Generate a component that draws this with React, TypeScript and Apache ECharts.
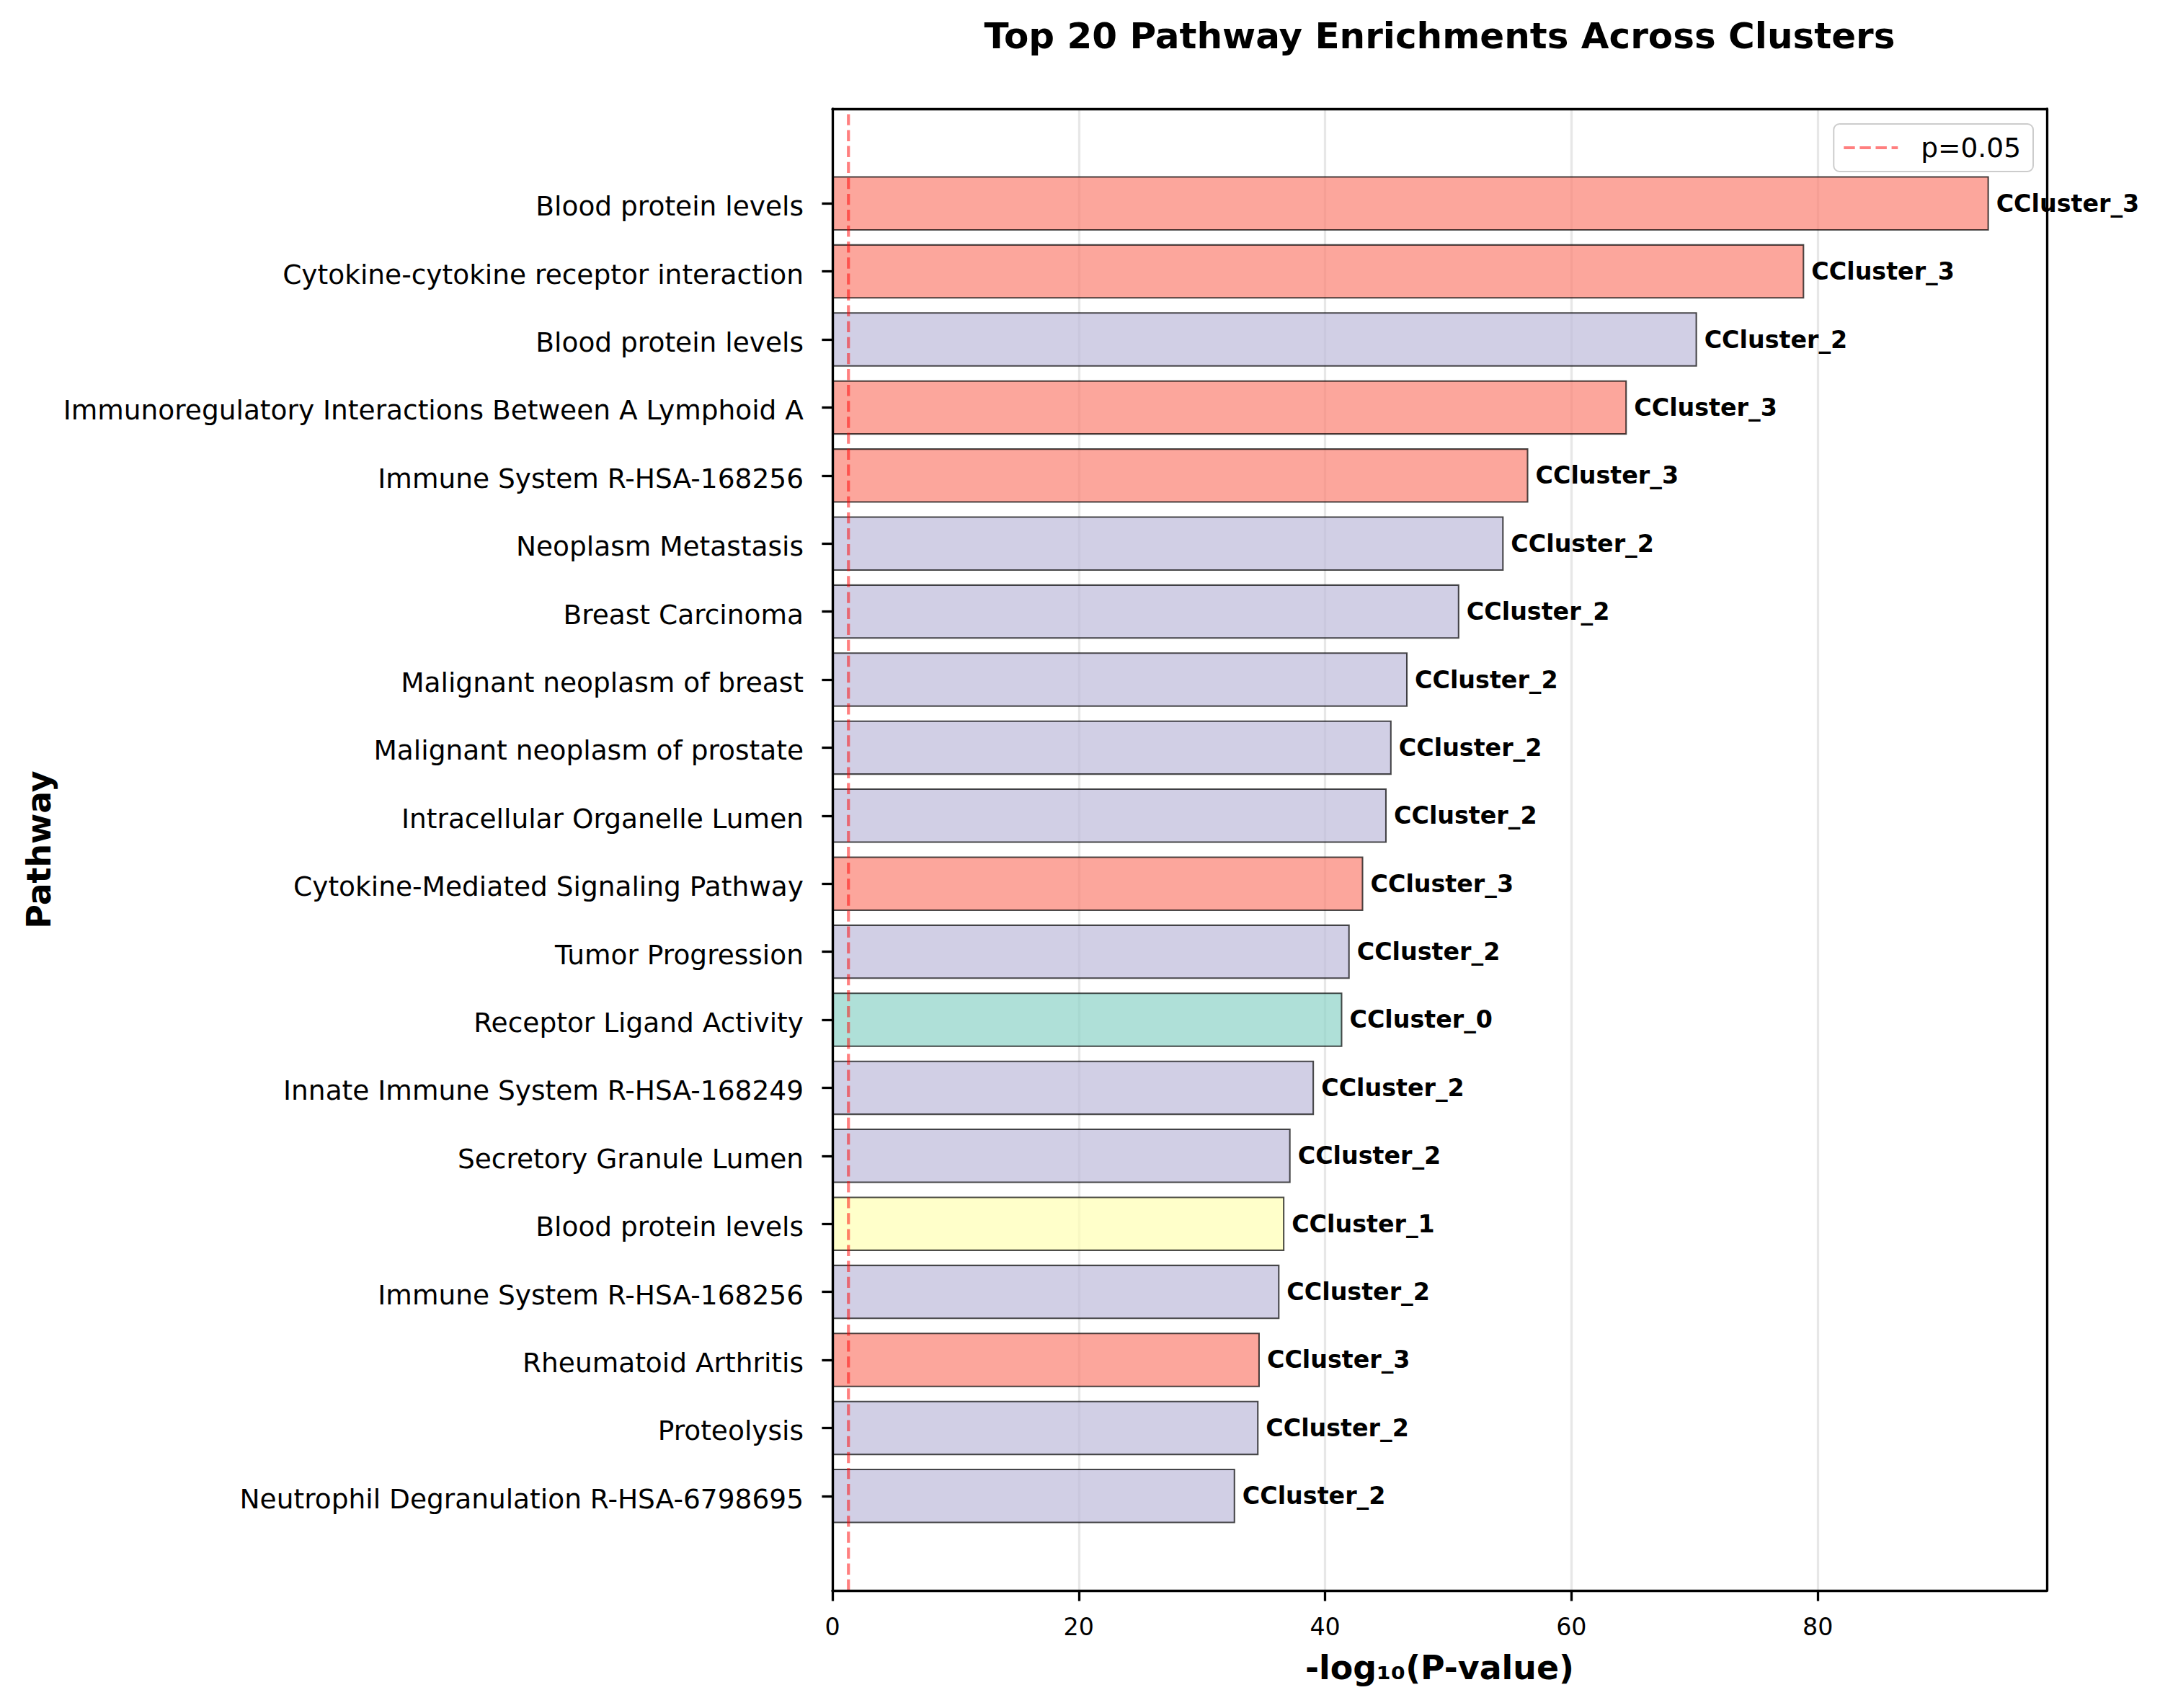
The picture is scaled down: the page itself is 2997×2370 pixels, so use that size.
import React, { useEffect, useRef } from "react";
import * as echarts from "echarts";

const pathways: string[] = [
  "Blood protein levels",
  "Cytokine-cytokine receptor interaction",
  "Blood protein levels",
  "Immunoregulatory Interactions Between A Lymphoid A",
  "Immune System R-HSA-168256",
  "Neoplasm Metastasis",
  "Breast Carcinoma",
  "Malignant neoplasm of breast",
  "Malignant neoplasm of prostate",
  "Intracellular Organelle Lumen",
  "Cytokine-Mediated Signaling Pathway",
  "Tumor Progression",
  "Receptor Ligand Activity",
  "Innate Immune System R-HSA-168249",
  "Secretory Granule Lumen",
  "Blood protein levels",
  "Immune System R-HSA-168256",
  "Rheumatoid Arthritis",
  "Proteolysis",
  "Neutrophil Degranulation R-HSA-6798695",
];

const negLog10P: number[] = [
  93.9, 78.9, 70.2, 64.5, 56.5, 54.5, 50.9, 46.7, 45.4, 45.0,
  43.1, 42.0, 41.4, 39.1, 37.2, 36.7, 36.3, 34.7, 34.6, 32.7,
];

const clusters: string[] = [
  "CCluster_3", "CCluster_3", "CCluster_2", "CCluster_3", "CCluster_3",
  "CCluster_2", "CCluster_2", "CCluster_2", "CCluster_2", "CCluster_2",
  "CCluster_3", "CCluster_2", "CCluster_0", "CCluster_2", "CCluster_2",
  "CCluster_1", "CCluster_2", "CCluster_3", "CCluster_2", "CCluster_2",
];

const clusterNames: string[] = ["CCluster_0", "CCluster_1", "CCluster_2", "CCluster_3"];
const clusterColors: string[] = [
  "rgba(141,211,199,0.7)",
  "rgba(255,255,179,0.7)",
  "rgba(190,186,218,0.7)",
  "rgba(251,128,114,0.7)",
];

const xTicks: number[] = [0, 20, 40, 60, 80];
const xMax = 98.6;
const pThreshold = -Math.log10(0.05);
const thresholdLabel = "p=0.05";

export default function App() {
  const ref = useRef<HTMLDivElement>(null);

  useEffect(() => {
    if (!ref.current) return;
    const chart = echarts.init(ref.current, null, { renderer: "svg" });
    const FONT = "DejaVu Sans";
    const W = 2997;
    const H = 2370;
    const L = 1155;
    const R = W - 2840;
    const T = 151;
    const B = H - 2207;
    const plotH = H - T - B;
    const n = pathways.length;
    const units = (n - 0.2) * 1.1;
    const padUnits = 0.05 * (n - 0.2) - 0.1;
    const padPx = (plotH * padUnits) / units;

    const spine = { color: "#000", width: 3.3 };
    const colorOf = (c: string) => clusterColors[clusterNames.indexOf(c)];
    const threshColor = "rgba(255,0,0,0.5)";
    const dashIcon = "path://M0 0H15.4V4H0Z M22.1 0H37.5V4H22.1Z M44.2 0H59.6V4H44.2Z M66.3 0H75V4H66.3Z";

    chart.setOption({
      animation: false,
      backgroundColor: "#ffffff",
      textStyle: { fontFamily: FONT },
      graphic: [
        {
          type: "text",
          x: L + (W - L - R) / 2,
          y: 50,
          style: {
            text: "Top 20 Pathway Enrichments Across Clusters",
            fontSize: 50,
            fontWeight: "bold",
            fontFamily: FONT,
            fill: "#000",
            align: "center",
            verticalAlign: "middle",
          },
        },
      ],
      legend: {
        data: [{ name: thresholdLabel, icon: dashIcon, itemStyle: { color: threshColor, borderWidth: 0 } }],
        right: W - 2821,
        top: 172,
        orient: "vertical",
        padding: [11, 17, 11, 14],
        itemWidth: 75,
        itemHeight: 4.17,
        symbolKeepAspect: false,
        borderColor: "#cccccc",
        borderWidth: 2,
        borderRadius: 8,
        backgroundColor: "rgba(255,255,255,0.8)",
        selectedMode: false,
        textStyle: { fontSize: 37.5, color: "#000", fontFamily: FONT, padding: [0, 0, 0, 27], lineHeight: 44 },
      },
      grid: [
        { left: L, right: R, top: T, bottom: B, containLabel: false },
        { left: L, right: R, top: T + padPx, bottom: B + padPx, containLabel: false },
      ],
      xAxis: [
        {
          gridIndex: 0,
          type: "value",
          min: 0,
          max: xMax,
          position: "bottom",
          z: 10,
          axisLine: { show: true, onZero: false, lineStyle: spine },
          axisTick: { show: true, customValues: xTicks, length: 14.6, lineStyle: spine },
          axisLabel: { customValues: xTicks, fontSize: 33.3, color: "#000", margin: 34, fontFamily: FONT },
          splitLine: { show: false },
          name: "-log₁₀(P-value)",
          nameLocation: "middle",
          nameGap: 84,
          nameTextStyle: { fontSize: 45.8, fontWeight: "bold", color: "#000", fontFamily: FONT },
        },
        {
          gridIndex: 0,
          type: "value",
          min: 0,
          max: xMax,
          position: "top",
          z: 10,
          axisLine: { show: true, onZero: false, lineStyle: spine },
          axisTick: { show: false },
          axisLabel: { show: false },
          splitLine: { show: false },
        },
        {
          gridIndex: 0,
          type: "value",
          min: 0,
          max: xMax,
          interval: 20,
          position: "bottom",
          z: 0,
          axisLine: { show: false },
          axisTick: { show: false },
          axisLabel: { show: false },
          splitLine: { show: true, lineStyle: { color: "#e7e7e7", width: 3.3 } },
        },
        { gridIndex: 1, type: "value", min: 0, max: xMax, show: false },
      ],
      yAxis: [
        {
          gridIndex: 0,
          type: "value",
          min: 0,
          max: 1,
          position: "left",
          z: 10,
          axisLine: { show: true, onZero: false, lineStyle: spine },
          axisTick: { show: false },
          axisLabel: { show: false },
          splitLine: { show: false },
          name: "Pathway",
          nameLocation: "middle",
          nameGap: 1078,
          nameTextStyle: { fontSize: 45.8, fontWeight: "bold", color: "#000", fontFamily: FONT },
        },
        {
          gridIndex: 0,
          type: "value",
          min: 0,
          max: 1,
          position: "right",
          z: 10,
          axisLine: { show: true, onZero: false, lineStyle: spine },
          axisTick: { show: false },
          axisLabel: { show: false },
          splitLine: { show: false },
        },
        {
          gridIndex: 1,
          type: "category",
          data: pathways,
          inverse: true,
          position: "left",
          axisLine: { show: false },
          axisTick: { show: true, alignWithLabel: true, length: 14.6, lineStyle: spine },
          axisLabel: {
            fontSize: 37.5,
            color: "#000",
            margin: 40,
            fontFamily: FONT,
            interval: 0,
            verticalAlign: "top",
            lineHeight: 8,
          },
          splitLine: { show: false },
        },
      ],
      series: [
        {
          type: "bar",
          name: "pathways",
          xAxisIndex: 3,
          yAxisIndex: 2,
          barWidth: "80%",
          data: negLog10P.map((v, i) => ({
            value: v,
            itemStyle: { color: colorOf(clusters[i]) },
          })),
          itemStyle: { borderColor: "rgba(0,0,0,0.7)", borderWidth: 2.08 },
          label: {
            show: true,
            position: "right",
            distance: 10,
            formatter: (p: any) => clusters[p.dataIndex],
            fontSize: 33.3,
            fontWeight: "bold",
            color: "#000",
            fontFamily: FONT,
          },
          z: 2,
        },
        {
          type: "line",
          name: thresholdLabel,
          xAxisIndex: 0,
          yAxisIndex: 0,
          color: threshColor,
          data: [
            [pThreshold, 0],
            [pThreshold, 1],
          ],
          symbol: "none",
          lineStyle: { color: threshColor, width: 4.17, type: [15.4, 6.7] },
          z: 5,
          silent: true,
        },
      ],
    });

    return () => chart.dispose();
  }, []);

  return (
    <div
      ref={ref}
      style={{ position: "absolute", left: 0, top: 0, width: 2997, height: 2370 }}
    />
  );
}
